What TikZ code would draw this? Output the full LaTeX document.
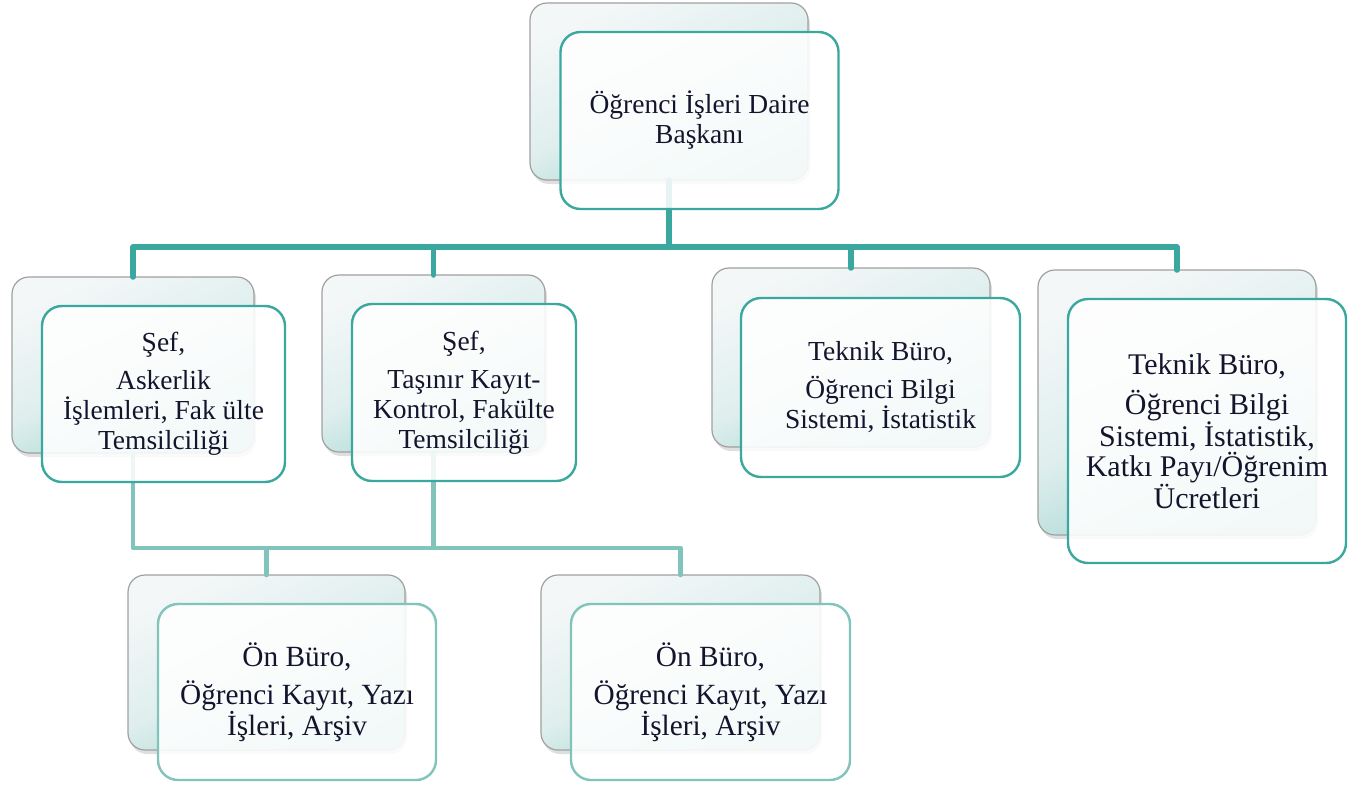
\documentclass[tikz,border=0pt]{standalone}
\usepackage{fontspec}
\setmainfont{Liberation Serif}
\usetikzlibrary{calc,shadows}
\definecolor{tealc}{RGB}{58,168,158}
\definecolor{teall}{RGB}{128,196,188}
\definecolor{backtop}{RGB}{244,247,248}
\definecolor{backbot}{RGB}{160,213,207}
\definecolor{txt}{RGB}{20,20,45}
\tikzset{
  backbox/.style={rectangle, rounded corners=17pt, draw={rgb,255:red,160;green,160;blue,160}, line width=1.2pt,
    top color=backtop, bottom color=backbot, middle color=backtop!75!backbot, shading angle=25,
    drop shadow={shadow xshift=2pt, shadow yshift=-4pt, opacity=0.25}, inner sep=0pt, outer sep=0pt},
  frontbox/.style={rectangle, rounded corners=20pt, draw=tealc, line width=2.4pt, fill=white, fill opacity=0.88,
    text opacity=1, text=txt, align=center, inner sep=0pt, outer sep=0pt,
    font=\fontsize{27.5}{30}\selectfont},
  frontboxl/.style={frontbox, draw=teall},
  conn/.style={draw=tealc, line width=5.5pt, line cap=round, line join=round},
  connl/.style={draw=teall, line width=4.5pt, line cap=round, line join=round},
}
\begin{document}
\begin{tikzpicture}[x=1pt,y=-1pt]
\useasboundingbox (0,0) rectangle (1364,784);
% back boxes
\node[backbox, minimum width=278pt, minimum height=177pt] (t0b) at (669,91.5) {};
\node[backbox, minimum width=242pt, minimum height=176pt] (ab) at (133,365) {};
\node[backbox, minimum width=223pt, minimum height=177pt] (bb) at (433.5,363.5) {};
\node[backbox, minimum width=278pt, minimum height=179pt] (cb) at (851,357.5) {};
\node[backbox, minimum width=278pt, minimum height=265pt] (db) at (1177,402.5) {};
\node[backbox, minimum width=277pt, minimum height=175pt] (eb) at (266.5,662.5) {};
\node[backbox, minimum width=279pt, minimum height=175pt] (fb) at (680.5,662.5) {};
% connectors
\coordinate (hub1) at (669,247);
\coordinate (hub2) at (433.5,548);
\draw[connl] (ab.south) |- (hub2);
\draw[connl] (bb.south) -- (hub2);
\draw[connl] (hub2) -| (eb.north);
\draw[connl] (hub2) -| (fb.north);
\draw[conn] (t0b.south) -- (hub1);
\draw[conn] (hub1) -| (ab.north);
\draw[conn] (hub1) -| (bb.north);
\draw[conn] (hub1) -| (cb.north);
\draw[conn] (hub1) -| (db.north);
% front boxes
\node[frontbox, minimum width=278pt, minimum height=177pt] (t0) at (699.5,120.5) {Öğrenci İşleri Daire\\Başkanı};
\node[frontbox, minimum width=243pt, minimum height=176pt] (a) at (163.5,394) {Şef,\\[8pt]Askerlik\\İşlemleri, Fak ülte\\Temsilciliği};
\node[frontbox, minimum width=224pt, minimum height=177pt] (b) at (464,392.5) {Şef,\\[8pt]Taşınır Kayıt-\\Kontrol, Fakülte\\Temsilciliği};
\node[frontbox, minimum width=279pt, minimum height=179pt] (c) at (880.5,387.5) {Teknik Büro,\\[8pt]Öğrenci Bilgi\\Sistemi, İstatistik};
\node[frontbox, minimum width=278pt, minimum height=264pt, font=\fontsize{30}{29.5}\selectfont] (d) at (1207,431) {Teknik Büro,\\[11pt]Öğrenci Bilgi\\Sistemi, İstatistik,\\Katkı Payı/Öğrenim\\Ücretleri};
\node[frontboxl, minimum width=278pt, minimum height=176pt, font=\fontsize{29.3}{31}\selectfont] (e) at (297,692) {Ön Büro,\\[7pt]Öğrenci Kayıt, Yazı\\İşleri, Arşiv};
\node[frontboxl, minimum width=279pt, minimum height=176pt, font=\fontsize{29.3}{31}\selectfont] (f) at (710.5,692) {Ön Büro,\\[7pt]Öğrenci Kayıt, Yazı\\İşleri, Arşiv};
\end{tikzpicture}
\end{document}
